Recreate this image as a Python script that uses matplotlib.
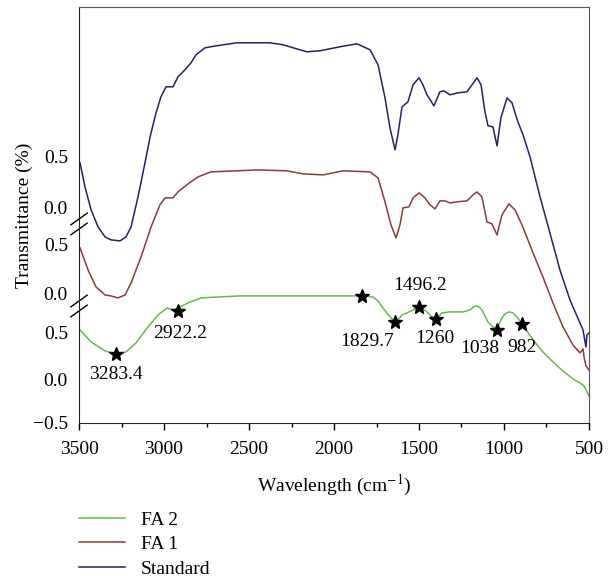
import numpy as np
import matplotlib
matplotlib.use("Agg")
from matplotlib import pyplot as plt
from matplotlib.ticker import MultipleLocator

plt.rcParams['font.family'] = ['Liberation Serif', 'DejaVu Serif']
plt.rcParams['mathtext.fontset'] = 'stix'

# FA 2 (bottom panel)
fa2_wn = [3494, 3429, 3347, 3282, 3224, 3165, 3094, 3035, 2982, 2947, 2918, 2859, 2782, 2682, 2553,
          1835, 1771, 1741, 1712, 1676, 1641, 1618, 1600, 1571, 1535, 1500, 1477, 1453, 1424, 1400,
          1382, 1365, 1318, 1241, 1200, 1171, 1147, 1129, 1112, 1094, 1071, 1041, 1029, 1012, 994,
          971, 947, 924, 894, 829, 771, 712, 653, 594, 553, 529, 518, 500]
fa2_t = [0.484, 0.357, 0.262, 0.230, 0.251, 0.347, 0.516, 0.643, 0.717, 0.696, 0.717, 0.770, 0.823, 0.833, 0.844,
         0.844, 0.833, 0.791, 0.717, 0.632, 0.569, 0.601, 0.643, 0.664, 0.696, 0.728, 0.706, 0.675, 0.622, 0.601,
         0.632, 0.664, 0.675, 0.675, 0.696, 0.738, 0.728, 0.696, 0.632, 0.569, 0.526, 0.484, 0.548, 0.611, 0.653,
         0.675, 0.664, 0.622, 0.548, 0.378, 0.251, 0.146, 0.050, -0.034, -0.077, -0.108, -0.151, -0.214]

# FA 1 (middle panel)
fa1_wn = [3494, 3447, 3400, 3347, 3312, 3271, 3229, 3194, 3135, 3076, 3024, 2994, 2947, 2918, 2859,
          2800, 2724, 2571, 2453, 2277, 2182, 2065, 1947, 1788, 1741, 1700, 1665, 1635, 1612, 1594,
          1559, 1535, 1500, 1465, 1435, 1406, 1377, 1347, 1318, 1277, 1218, 1182, 1159, 1130, 1100,
          1071, 1041, 1012, 971, 935, 894, 829, 771, 712, 653, 594, 553, 535, 529, 518, 500]
fa1_t = [0.482, 0.249, 0.069, -0.016, -0.026, -0.047, -0.016, 0.111, 0.387, 0.704, 0.937, 1.011, 1.011, 1.074, 1.159,
         1.233, 1.286, 1.297, 1.307, 1.297, 1.265, 1.254, 1.297, 1.286, 1.223, 0.969, 0.725, 0.588, 0.725, 0.905,
         0.916, 1.011, 1.064, 1.011, 0.937, 0.895, 0.979, 0.979, 0.958, 0.969, 0.979, 1.043, 1.074, 1.022, 0.757,
         0.736, 0.619, 0.831, 0.947, 0.884, 0.725, 0.429, 0.175, -0.100, -0.354, -0.545, -0.629, -0.587, -0.672, -0.767, -0.809]

# Standard (top panel)
std_wn = [3494, 3465, 3429, 3388, 3347, 3312, 3259, 3224, 3194, 3153, 3112, 3082, 3047, 3018, 2988,
          2947, 2918, 2877, 2841, 2812, 2759, 2694, 2571, 2376, 2300, 2159, 2082, 1965, 1865, 1788,
          1741, 1700, 1671, 1641, 1624, 1600, 1565, 1535, 1500, 1477, 1453, 1412, 1377, 1353, 1318,
          1271, 1218, 1188, 1159, 1135, 1112, 1094, 1065, 1041, 1018, 982, 953, 918, 888, 847,
          788, 730, 671, 612, 553, 535, 518, 512, 500]
std_t = [0.471, 0.217, -0.026, -0.206, -0.312, -0.343, -0.354, -0.312, -0.206, 0.112, 0.471, 0.746, 1.000, 1.170, 1.276,
         1.276, 1.381, 1.455, 1.530, 1.614, 1.688, 1.709, 1.741, 1.741, 1.720, 1.646, 1.657, 1.699, 1.731, 1.667,
         1.508, 1.159, 0.842, 0.609, 0.768, 1.064, 1.117, 1.297, 1.371, 1.297, 1.191, 1.074, 1.223, 1.233, 1.191,
         1.212, 1.223, 1.297, 1.371, 1.297, 1.011, 0.863, 0.852, 0.651, 0.948, 1.159, 1.106, 0.905, 0.768, 0.535,
         0.112, -0.269, -0.661, -0.978, -1.222, -1.296, -1.476, -1.349, -1.328]

# marked peaks on FA 2
peak_wn = [3282, 2918, 1835, 1641, 1500, 1400, 1041, 894]
peak_t = [0.230, 0.680, 0.844, 0.569, 0.728, 0.601, 0.484, 0.548]
peak_labels = ['3283.4', '2922.2', '1829.7', '1496.2', '1260', '1038', '982']
label_wn = [3282, 2906, 1806, 1494, 1406, 1141, 894]
label_t = [0.008, 0.442, 0.357, 0.950, 0.389, 0.283, 0.294]

offsets = [0.0, 0.87, 1.78]
colors = ['#62bb4f', '#8b3b3b', '#23226b']

fig = plt.figure(figsize=(6.15, 5.82), dpi=100)
ax = fig.add_axes([0.1285, 0.2732, 0.8292, 0.7148])

l2, = ax.plot(fa2_wn, np.array(fa2_t) + offsets[0], color=colors[0], lw=1.1)
l1, = ax.plot(fa1_wn, np.array(fa1_t) + offsets[1], color=colors[1], lw=1.1)
l0, = ax.plot(std_wn, np.array(std_t) + offsets[2], color=colors[2], lw=1.1)

ax.plot(peak_wn, np.array(peak_t) + offsets[0], linestyle='none', marker='*',
        color='black', markersize=10)
for lab, x, y in zip(peak_labels, label_wn, label_t):
    ax.text(x, y + offsets[0], lab, ha='center', va='center', fontsize=14)

ax.set_xlim(3500, 500)
ax.set_ylim(-0.5, 3.9)
ax.xaxis.set_major_locator(MultipleLocator(500))
ax.xaxis.set_minor_locator(MultipleLocator(250))
ax.tick_params(axis='x', which='major', length=5, width=1, pad=8, labelsize=14)
ax.tick_params(axis='x', which='minor', length=3, width=1)

ytick_pos = [-0.5, -0.04, 0.46, offsets[1], offsets[1] + 0.52, offsets[2], offsets[2] + 0.54]
ytick_lab = ['\u22120.5', '0.0', '0.5', '0.0', '0.5', '0.0', '0.5']
ax.set_yticks(ytick_pos)
ax.set_yticklabels(ytick_lab)
ax.tick_params(axis='y', length=0, pad=8, labelsize=14)

for s in ['top', 'right']:
    ax.spines[s].set_color('#555555')
for s in ['left', 'bottom']:
    ax.spines[s].set_color('#222222')

ax.set_xlabel('Wavelength (cm$^{-1}$)', fontsize=14, labelpad=11)
ax.set_ylabel('Transmittance (%)', fontsize=14, labelpad=0)

# axis break marks
for yb in [(423 - 224) / 416, (423 - 306) / 416]:
    for dy in [-0.012, 0.012]:
        ax.plot([-0.016, 0.016], [yb + dy - 0.014, yb + dy + 0.014], transform=ax.transAxes,
                color='black', lw=1, clip_on=False)

fig.legend([l2, l1, l0], ['FA 2', 'FA 1', 'Standard'], loc='upper left',
           bbox_to_anchor=(0.115, 0.135), frameon=False, fontsize=14,
           handlelength=2.4, handletextpad=0.8, labelspacing=0.35, borderaxespad=0)

fig.savefig('out.png', dpi=100)
